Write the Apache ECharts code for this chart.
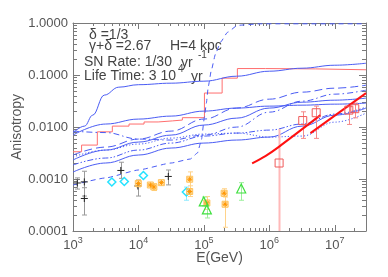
<!DOCTYPE html>
<html><head><meta charset="utf-8">
<script src="https://cdn.jsdelivr.net/npm/echarts@6/dist/echarts.min.js"></script>
<style>html,body{margin:0;padding:0;background:#fff}#c{width:388px;height:277px}</style>
</head><body><div id="c"></div>
<script>
// ---- axis ranges / tick labels ----
const X_MIN = 1e3, X_MAX = 3e7;
const Y_MIN = 1e-4, Y_MAX = 1;
const xTickLabels = [1e3, 1e4, 1e5, 1e6, 1e7];
const yTickLabels = [1e-4, 1e-3, 1e-2, 1e-1, 1];

// ---- model curves (blue) ----
const gridE = [1e3, 3.16e3, 1e4, 3.16e4, 1e5, 3.16e5, 1e6, 3.16e6, 1e7, 3e7];
const curveA_E = [1000, 1500, 2000, 3000, 5000, 1e4, 3.16e4, 1e5, 3.16e5, 1e6, 3.16e6, 1e7, 3e7];
const curveA = [0.00764, 0.0104, 0.0169, 0.0410, 0.0583, 0.0651, 0.0696, 0.0760, 0.0948, 0.1183, 0.1351, 0.1542, 0.1684];
const curveB = [0.0070, 0.0114, 0.0142, 0.0162, 0.0202, 0.0231, 0.0252, 0.0263, 0.0275, 0.0288];
const curveE = [0.00232, 0.00360, 0.00513, 0.00699, 0.0109, 0.0148, 0.0231, 0.0300, 0.0328, 0.0359];
const curveF = [0.00136, 0.00203, 0.00289, 0.00394, 0.00491, 0.00561, 0.00640, 0.0104, 0.0169, 0.0231];
const curveLongDash = [0.00289, 0.00411, 0.00586, 0.00834, 0.0142, 0.0231, 0.0343, 0.0468, 0.0558, 0.0637];
const curveDashDot = [0.00834, 0.00781, 0.00586, 0.00561, 0.00699, 0.00996, 0.0193, 0.0314, 0.0428, 0.0511];
const curveDotted = [0.00265, 0.00360, 0.00470, 0.00612, 0.00731, 0.00764, 0.00640, 0.00669, 0.0124, 0.0185];
const curveDashDotDot = [0.00186, 0.00253, 0.00360, 0.00491, 0.00669, 0.00764, 0.00872, 0.0114, 0.0177, 0.0241];
const curveJump_E = [1000, 3160, 1e4, 3.16e4, 6.2e4, 7.96e4, 9.16e4, 1.02e5, 1.09e5, 1.17e5, 1.30e5, 1.50e5, 1.79e5, 2.30e5, 3.26e5, 7.33e5, 3e7];
const curveJump = [0.000767, 0.00105, 0.00149, 0.00203, 0.00242, 0.00316, 0.00561, 0.0155, 0.0288, 0.0610, 0.1237, 0.2507, 0.4262, 0.663, 0.903, 0.965, 0.965];

// ---- red histogram ----
const histE = [1000, 1353, 2353, 3990, 7180, 12180, 20000, 33000, 46900, 101900, 190000, 325000, 871000, 5.07e6, 3e7];
const histA = [0.00334, 0.00449, 0.00807, 0.0104, 0.0114, 0.0125, 0.0131, 0.0136, 0.0151, 0.045, 0.087, 0.133, 0.131, 0.126, 0.126];

// ---- thick red lines ----
const red1E = [5.46e5, 8.7e5, 1.38e6, 6.04e6];
const red1A = [0.0020, 0.00276, 0.00411, 0.0169];
const red2E = [4.25e6, 3.0e7];
const red2A = [0.00764, 0.0448];

// ---- data points [E, value, low, high] ----
const blackPts = [[1163, 0.000838, 0.00064, 0.00105], [1489, 0.00088, 0.00047, 0.00141], [1489, 0.000422, 0.000203, 0.00068],
  [5380, 0.00146, 0.00103, 0.0021], [9800, 0.000734, 0.00047, 0.00096], [28600, 0.00112, 0.00077, 0.00149]];
const cyanPts = [[3920, 0.000875], [6080, 0.000895], [11900, 0.00117], [54000, 0.000563]];
const cyanErr = [[54000, 0.00039, 0.00070]];
const orangePts = [[9950, 0.00082], [15200, 0.000767], [17200, 0.000702], [22400, 0.00085], [60700, 0.00099],
  [60700, 0.000575], [111000, 0.000346], [204000, 0.000532], [211000, 0.000327]];
const orangeErr = [[9950, 0.00070, 0.00095], [17200, 0.00060, 0.00082], [60700, 0.00054, 0.00137], [60700, 0.00046, 0.00074],
  [111000, 0.00026, 0.00046], [204000, 0.00046, 0.00065], [211000, 0.000118, 0.00045]];
const greenPts = [[99600, 0.00037], [111000, 0.00026], [372000, 0.000657]];
const greenErr = [[99600, 0.000304, 0.00045], [111000, 0.000178, 0.00035], [372000, 0.00039, 0.00085]];
const redSqPts = [[1.41e6, 0.00203], [3.24e6, 0.0133], [5.2e6, 0.0188], [1.64e7, 0.0211], [2.02e7, 0.0225]];
const redSqErrWide = [[1.41e6, 0.00005, 0.00912]];
const redSqErr = [[3.24e6, 0.00604, 0.0196], [5.2e6, 0.00604, 0.0252], [1.64e7, 0.0112, 0.0245], [2.02e7, 0.0150, 0.0288]];

// ---- build chart ----
const FONT = 'Liberation Sans, Arial, sans-serif';
const frame = '#7a7a7a';
const labelCol = '#555';
const blue = '#4a5cf4';

const xMinor = [];
for (let n = 3; n <= 7; n++) for (let k = 2; k <= 9; k++) { const v = k * Math.pow(10, n); if (v < X_MAX) xMinor.push([v, Y_MIN]); }
const yMinor = [];
for (let n = -4; n <= -1; n++) for (let k = 2; k <= 9; k++) { yMinor.push([X_MIN, k * Math.pow(10, n)]); }

function pairs(xs, ys) { return xs.map((x, i) => [x, ys[i]]); }
function blueLine(xs, ys, type, smooth) {
  return { type: 'line', data: pairs(xs, ys), showSymbol: false, symbol: 'none', smooth: smooth, smoothMonotone: 'x',
    lineStyle: { color: blue, width: 1, type: type }, silent: true, z: 2 };
}
function errSeries(data, color, width, cap) {
  return { type: 'custom', data: data, encode: { x: 0, y: [1, 2] }, clip: true, silent: true, z: 3,
    renderItem: function (p, api) {
      const x = api.value(0), lo = api.value(1), hi = api.value(2);
      const a = api.coord([x, hi]), b = api.coord([x, lo]);
      const cx = Math.round(a[0]) + 0.5;
      return { type: 'group', children: [
        { type: 'line', shape: { x1: cx, y1: a[1], x2: cx, y2: b[1] }, style: { stroke: color, lineWidth: width } },
        { type: 'line', shape: { x1: cx - cap, y1: a[1], x2: cx + cap, y2: a[1] }, style: { stroke: color, lineWidth: 1 } },
        { type: 'line', shape: { x1: cx - cap, y1: b[1], x2: cx + cap, y2: b[1] }, style: { stroke: color, lineWidth: 1 } }
      ] };
    } };
}
function scatter(data, symbol, size, fill, stroke, bw) {
  return { type: 'scatter', data: data, symbol: symbol, symbolSize: size, silent: true, z: 4,
    itemStyle: { color: fill, borderColor: stroke, borderWidth: bw, opacity: 1 } };
}

const baseAxis = {
  type: 'log', logBase: 10, splitLine: { show: false }, minorTick: { show: false },
  axisLine: { show: true, lineStyle: { color: frame, width: 1 } }
};

const option = {
  animation: false,
  backgroundColor: '#fff',
  grid: { left: 73, right: 22, top: 23, bottom: 46, containLabel: false, outerBoundsMode: 'none' },
  xAxis: [
    Object.assign({}, baseAxis, {
      min: X_MIN, max: X_MAX, position: 'bottom',
      axisTick: { show: true, inside: true, length: 6, lineStyle: { color: frame } },
      axisLabel: { show: true, margin: 5, color: labelCol, fontFamily: FONT,
        formatter: function (v) {
          const e = Math.round(Math.log10(v));
          if (Math.abs(v - Math.pow(10, e)) / v > 1e-6) return '';
          return '{b|10}{s|' + e + '}';
        },
        rich: { b: { fontSize: 13, fontFamily: FONT, color: labelCol, lineHeight: 16, verticalAlign: 'bottom' },
                s: { fontSize: 9, fontFamily: FONT, color: labelCol, lineHeight: 16, verticalAlign: 'top' } } },
      name: 'E(GeV)', nameLocation: 'middle', nameGap: 20, nameMoveOverlap: false,
      nameTextStyle: { fontSize: 14, color: labelCol, fontFamily: FONT }
    }),
    Object.assign({}, baseAxis, {
      min: X_MIN, max: X_MAX, position: 'top',
      axisTick: { show: true, inside: true, length: 6, lineStyle: { color: frame } },
      axisLabel: { show: false }
    })
  ],
  yAxis: [
    Object.assign({}, baseAxis, {
      min: Y_MIN, max: Y_MAX, position: 'left',
      axisTick: { show: true, inside: true, length: 7, lineStyle: { color: frame } },
      axisLabel: { show: true, margin: 5, color: labelCol, fontSize: 13, fontFamily: FONT,
        formatter: function (v) { return v.toFixed(4); } },
      name: 'Anisotropy', nameLocation: 'middle', nameGap: 49, nameRotate: 90, nameMoveOverlap: false,
      nameTextStyle: { fontSize: 14, color: labelCol, fontFamily: FONT }
    }),
    Object.assign({}, baseAxis, {
      min: Y_MIN, max: Y_MAX, position: 'right',
      axisTick: { show: true, inside: true, length: 7, lineStyle: { color: frame } },
      axisLabel: { show: false }
    })
  ],
  graphic: [
    { type: 'text', x: 89, y: 35, style: { text: 'δ =1/3', font: '14px ' + FONT, fill: '#444', verticalAlign: 'middle' } },
    { type: 'text', x: 89, y: 46, style: { text: 'γ+δ =2.67', font: '14px ' + FONT, fill: '#444', verticalAlign: 'middle' } },
    { type: 'text', x: 170, y: 46, style: { text: 'H=4 kpc', font: '14px ' + FONT, fill: '#444', verticalAlign: 'middle' } },
    { type: 'text', x: 84, y: 62, style: { text: 'SN Rate: 1/30', font: '14px ' + FONT, fill: '#444', verticalAlign: 'middle' } },
    { type: 'text', x: 181, y: 63, style: { text: 'yr', font: '14px ' + FONT, fill: '#444', verticalAlign: 'middle' } },
    { type: 'text', x: 198, y: 55, style: { text: '-1', font: '10px ' + FONT, fill: '#444', verticalAlign: 'middle' } },
    { type: 'text', x: 84, y: 76, style: { text: 'Life Time: 3 10', font: '14px ' + FONT, fill: '#444', verticalAlign: 'middle' } },
    { type: 'text', x: 178, y: 69, style: { text: '4', font: '10px ' + FONT, fill: '#444', verticalAlign: 'middle' } },
    { type: 'text', x: 191, y: 77, style: { text: 'yr', font: '14px ' + FONT, fill: '#444', verticalAlign: 'middle' } }
  ],
  series: [
    // minor ticks on log axes
    { type: 'custom', data: xMinor, encode: { x: 0, y: 1 }, silent: true, clip: false, z: 1,
      renderItem: function (p, api) {
        const v = api.value(0);
        const b = api.coord([v, Y_MIN]), t = api.coord([v, Y_MAX]);
        const x = Math.round(b[0]) + 0.5;
        return { type: 'group', children: [
          { type: 'line', shape: { x1: x, y1: b[1], x2: x, y2: b[1] - 3 }, style: { stroke: frame, lineWidth: 1 } },
          { type: 'line', shape: { x1: x, y1: t[1], x2: x, y2: t[1] + 3 }, style: { stroke: frame, lineWidth: 1 } }
        ] };
      } },
    { type: 'custom', data: yMinor, encode: { x: 0, y: 1 }, silent: true, clip: false, z: 1,
      renderItem: function (p, api) {
        const v = api.value(1);
        const l = api.coord([X_MIN, v]), r = api.coord([X_MAX, v]);
        const y = Math.round(l[1]) + 0.5;
        return { type: 'group', children: [
          { type: 'line', shape: { x1: l[0], y1: y, x2: l[0] + 4, y2: y }, style: { stroke: frame, lineWidth: 1 } },
          { type: 'line', shape: { x1: r[0], y1: y, x2: r[0] - 4, y2: y }, style: { stroke: frame, lineWidth: 1 } }
        ] };
      } },
    // red histogram
    { type: 'line', data: pairs(histE, histA), step: 'end', showSymbol: false, symbol: 'none', silent: true, z: 2,
      lineStyle: { color: '#ff6e6e', width: 1 } },
    // blue model curves
    blueLine(curveA_E, curveA, 'solid', 0.4),
    blueLine(gridE, curveB, 'solid', 0.4),
    blueLine(gridE, curveE, 'solid', 0.4),
    blueLine(gridE, curveF, 'solid', 0.4),
    blueLine(gridE, curveLongDash, [8, 4], 0.4),
    blueLine(gridE, curveDashDot, [6, 3, 1.5, 3], 0.4),
    blueLine(gridE, curveDotted, [1.2, 2], 0.4),
    blueLine(gridE, curveDashDotDot, [6, 2, 1.5, 2, 1.5, 2], 0.4),
    blueLine(curveJump_E, curveJump, [5, 4], 0.15),
    // thick red lines
    { type: 'line', data: pairs(red1E, red1A), showSymbol: false, symbol: 'none', smooth: 0.3, silent: true, z: 3,
      lineStyle: { color: '#ff1010', width: 2 } },
    { type: 'line', data: pairs(red2E, red2A), showSymbol: false, symbol: 'none', silent: true, z: 3,
      lineStyle: { color: '#ff1010', width: 2 } },
    // error bars
    errSeries(blackPts.map(d => [d[0], d[2], d[3]]), '#9a9a9a', 1, 2.5),
    errSeries(cyanErr, '#8eeaff', 1, 2.5),
    errSeries(orangeErr, '#ffd38a', 1, 2.5),
    errSeries(greenErr, '#9bef9b', 1, 2.5),
    errSeries(redSqErrWide, '#ffb9b9', 2, 0),
    errSeries(redSqErr, '#f58a8a', 1, 2.5),
    // markers
    scatter(blackPts.map(d => [d[0], d[1]]), 'path://M5,0L5,10M0,5L10,5', 7, 'none', '#222', 1),
    scatter(cyanPts, 'diamond', 8, 'rgba(0,0,0,0)', '#25e2ff', 1.5),
    scatter(orangePts, 'rect', 6, 'rgba(255,205,120,0.55)', '#ffc25a', 1),
    scatter(orangePts, 'path://M5,0L5,10M0,5L10,5M1.5,1.5L8.5,8.5M8.5,1.5L1.5,8.5', 5, 'none', '#ff9600', 1),
    scatter(greenPts, 'triangle', 9, 'rgba(0,0,0,0)', '#3fe03f', 1.2),
    scatter(redSqPts, 'rect', 8, 'rgba(0,0,0,0)', '#f05a5a', 1)
  ]
};
const chart = echarts.init(document.getElementById('c'));
chart.setOption(option);
</script>
</body></html>
